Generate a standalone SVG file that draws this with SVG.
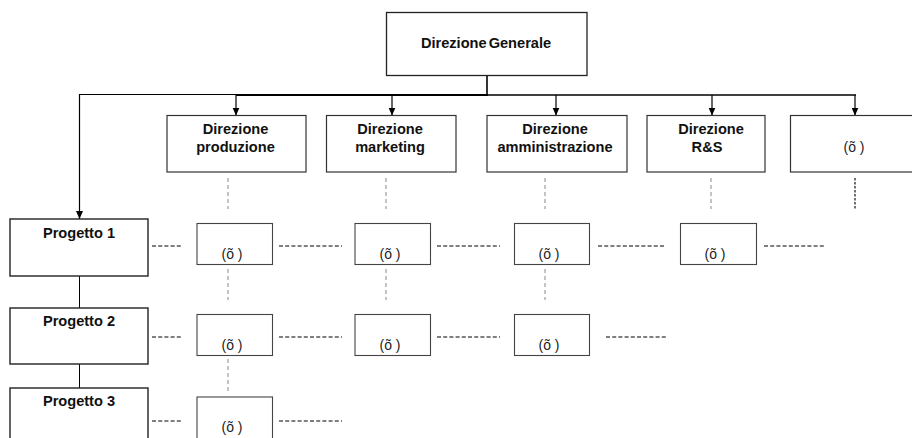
<svg xmlns="http://www.w3.org/2000/svg" width="912" height="438" viewBox="0 0 912 438">
<defs>
<marker id="arr" viewBox="0 0 8 8" refX="8" refY="4" markerWidth="8" markerHeight="8" markerUnits="userSpaceOnUse" orient="auto">
<path d="M0,0.5 L8,4 L0,7.5 Z" fill="#000"/>
</marker>
</defs>
<style>
rect{fill:#fff}
.big{stroke:#222;stroke-width:1.3}
.dept{stroke:#333;stroke-width:1.2}
.proj{stroke:#222;stroke-width:1.4}
.small{stroke:#444;stroke-width:1.1}
text{font-family:"Liberation Sans",Arial,sans-serif;fill:#111;text-anchor:middle}
.b{font-weight:bold;font-size:14.6px}
.r{font-size:14px;fill:#222}
.solid{stroke:#000;fill:none}
.hd{stroke:#000;stroke-width:1.1;stroke-dasharray:4 2.2;fill:none}
.vd{stroke:#888;stroke-width:1;stroke-dasharray:4 3;fill:none}
.vk{stroke:#111;stroke-width:1.2;stroke-dasharray:2.5 1.5;fill:none}
</style>
<g id="connectors">
<line class="solid" x1="487" y1="75" x2="487" y2="95" stroke-width="1.6"/>
<line class="solid" x1="79" y1="94.5" x2="237" y2="94.5" stroke-width="1.1"/>
<line class="solid" x1="236" y1="95" x2="488" y2="95" stroke-width="2"/>
<line class="solid" x1="487" y1="95" x2="856" y2="95" stroke-width="1.3"/>
<line class="solid" x1="79.5" y1="94.5" x2="79.5" y2="219" stroke-width="1.2" marker-end="url(#arr)"/>
<line class="solid" x1="236" y1="95" x2="236" y2="115.5" stroke-width="1.2" marker-end="url(#arr)"/>
<line class="solid" x1="392" y1="95" x2="392" y2="115.5" stroke-width="1.2" marker-end="url(#arr)"/>
<line class="solid" x1="556" y1="95" x2="556" y2="115.5" stroke-width="1.2" marker-end="url(#arr)"/>
<line class="solid" x1="712" y1="95" x2="712" y2="115.5" stroke-width="1.2" marker-end="url(#arr)"/>
<line class="solid" x1="855" y1="95" x2="855" y2="115.5" stroke-width="1.2" marker-end="url(#arr)"/>
<line class="solid" x1="79.5" y1="276" x2="79.5" y2="308" stroke-width="1"/>
<line class="solid" x1="79.5" y1="364" x2="79.5" y2="388" stroke-width="1"/>
<line class="vd" x1="228" y1="178" x2="228" y2="209"/>
<line class="vd" x1="386" y1="178" x2="386" y2="209"/>
<line class="vd" x1="545" y1="178" x2="545" y2="209"/>
<line class="vd" x1="711" y1="178" x2="711" y2="209"/>
<line class="vk" x1="855" y1="178" x2="855" y2="209"/>
<line class="vd" x1="228" y1="269" x2="228" y2="300"/>
<line class="vd" x1="386" y1="269" x2="386" y2="300"/>
<line class="vd" x1="545" y1="269" x2="545" y2="300"/>
<line class="vd" x1="228" y1="359" x2="228" y2="391"/>
<line class="hd" x1="152" y1="246" x2="183" y2="246"/>
<line class="hd" x1="279" y1="246" x2="342" y2="246"/>
<line class="hd" x1="437" y1="246" x2="500" y2="246"/>
<line class="hd" x1="598" y1="246" x2="666" y2="246"/>
<line class="hd" x1="764" y1="246" x2="826" y2="246"/>
<line class="hd" x1="152" y1="337" x2="183" y2="337"/>
<line class="hd" x1="279" y1="337" x2="342" y2="337"/>
<line class="hd" x1="437" y1="337" x2="500" y2="337"/>
<line class="hd" x1="606" y1="337" x2="667" y2="337"/>
<line class="hd" x1="152" y1="421" x2="183" y2="421"/>
<line class="hd" x1="279" y1="421" x2="342" y2="421"/>
</g>
<g id="dg"><rect class="big" x="386.5" y="12.5" width="200.5" height="63"/><text class="b" x="486" y="48" word-spacing="-2">Direzione Generale</text></g>
<g id="d1"><rect class="dept" x="167" y="115.5" width="139" height="56.5"/><text class="b" x="235.5" y="134">Direzione</text><text class="b" x="235.5" y="152">produzione</text></g>
<g id="d2"><rect class="dept" x="326.5" y="115.5" width="129.5" height="56.5"/><text class="b" x="390" y="134">Direzione</text><text class="b" x="390" y="152">marketing</text></g>
<g id="d3"><rect class="dept" x="487" y="115.5" width="140" height="56.5"/><text class="b" x="555" y="134">Direzione</text><text class="b" x="555" y="152">amministrazione</text></g>
<g id="d4"><rect class="dept" x="647" y="115.5" width="118" height="56.5"/><text class="b" x="711" y="134">Direzione</text><text class="b" x="707" y="152">R&amp;S</text></g>
<g id="d5"><rect class="dept" x="790.5" y="115.5" width="130" height="56.5"/><text class="r" x="854" y="152">(õ )</text></g>
<g id="p1"><rect class="proj" x="10" y="219" width="138" height="57"/><text class="b" x="79" y="238">Progetto 1</text></g>
<g id="p2"><rect class="proj" x="10" y="308" width="138" height="56"/><text class="b" x="79" y="326">Progetto 2</text></g>
<g id="p3"><rect class="proj" x="10" y="388" width="138" height="60"/><text class="b" x="79" y="406">Progetto 3</text></g>
<g id="r1a"><rect class="small" x="197" y="223.5" width="75.5" height="41"/><text class="r" x="232" y="259">(õ )</text></g>
<g id="r1b"><rect class="small" x="355" y="223.5" width="75.5" height="41"/><text class="r" x="390" y="259">(õ )</text></g>
<g id="r1c"><rect class="small" x="514.5" y="223.5" width="75" height="41"/><text class="r" x="549" y="259">(õ )</text></g>
<g id="r1d"><rect class="small" x="680.5" y="223.5" width="76" height="41"/><text class="r" x="715" y="259">(õ )</text></g>
<g id="r2a"><rect class="small" x="197" y="314.5" width="75.5" height="41"/><text class="r" x="232" y="350">(õ )</text></g>
<g id="r2b"><rect class="small" x="355" y="314.5" width="75.5" height="41"/><text class="r" x="390" y="350">(õ )</text></g>
<g id="r2c"><rect class="small" x="514.5" y="314.5" width="75" height="41"/><text class="r" x="549" y="350">(õ )</text></g>
<g id="r3a"><rect class="small" x="197" y="397" width="75.5" height="50"/><text class="r" x="232" y="432">(õ )</text></g>
</svg>
